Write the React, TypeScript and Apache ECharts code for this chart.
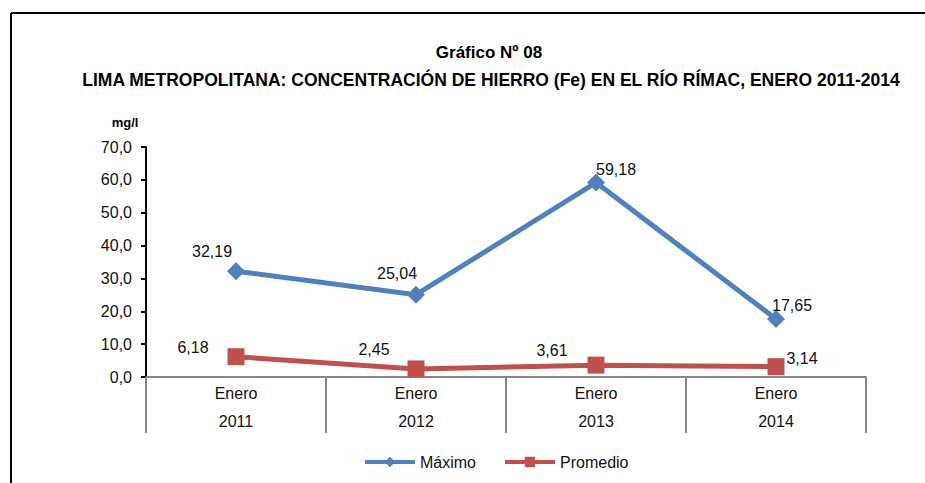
import React, { useEffect, useRef } from "react";
import * as echarts from "echarts";

const categories = ["Enero\n2011", "Enero\n2012", "Enero\n2013", "Enero\n2014"];
const maximo = [32.19, 25.04, 59.18, 17.65];
const promedio = [6.18, 2.45, 3.61, 3.14];
const maxLabelOffsets: number[][] = [[-24, -20], [-19, -21], [20, -13], [16, -14]];
const promLabelOffsets: number[][] = [[-43, -9], [-42, -19], [-44, -15], [26, -8]];

const FONT = "'Liberation Sans Narrow', 'Arial Narrow', 'Liberation Sans', Arial, sans-serif";

const fmt = (v: number, d: number) => v.toFixed(d).replace(".", ",");

export default function App() {
  const ref = useRef<HTMLDivElement>(null);
  useEffect(() => {
    document.body.style.margin = "0";
    const chart = echarts.init(ref.current!, null, { renderer: "svg" });
    const mkData = (vals: number[], offs: number[][]) =>
      vals.map((v, i) => ({
        value: v,
        label: { offset: offs[i] },
      }));
    chart.setOption({
      animation: false,
      backgroundColor: "#ffffff",
      textStyle: { fontFamily: FONT },
      grid: { left: 146, right: 59, top: 147, bottom: 106 },
      graphic: [
        { type: "line", shape: { x1: 11, y1: 13, x2: 925, y2: 13 }, style: { stroke: "#000", lineWidth: 2 } },
        { type: "line", shape: { x1: 11, y1: 13, x2: 11, y2: 483 }, style: { stroke: "#000", lineWidth: 2 } },
        { type: "text", x: 489, y: 52, style: { text: "Gráfico Nº 08", font: `bold 17px ${FONT}`, fill: "#000", textAlign: "center", textVerticalAlign: "middle" } },
        { type: "text", x: 491, y: 80, style: { text: "LIMA METROPOLITANA: CONCENTRACIÓN DE HIERRO (Fe) EN EL RÍO RÍMAC, ENERO 2011-2014", font: `bold 17.5px ${FONT}`, fill: "#000", textAlign: "center", textVerticalAlign: "middle" } },
        { type: "text", x: 125, y: 122, style: { text: "mg/l", font: `bold 13px ${FONT}`, fill: "#000", textAlign: "center", textVerticalAlign: "middle" } },
      ],
      legend: {
        left: 358,
        top: 449,
        itemWidth: 50,
        itemHeight: 13,
        itemGap: 27,
        itemTextGap: 2,
        lineStyle: { width: 4 },
        textStyle: { fontSize: 16, color: "#111", fontFamily: FONT },
        data: ["Máximo", "Promedio"],
      },
      xAxis: {
        type: "category",
        data: categories,
        boundaryGap: true,
        axisLine: { lineStyle: { color: "#868686", width: 2 } },
        axisTick: { show: true, interval: 0, length: 56, lineStyle: { color: "#868686", width: 2 } },
        axisLabel: { interval: 0, margin: 2, lineHeight: 28, fontSize: 16, color: "#111", fontFamily: FONT },
      },
      yAxis: {
        type: "value",
        min: 0,
        max: 70,
        interval: 10,
        axisLine: { show: true, lineStyle: { color: "#000", width: 2 } },
        axisTick: { show: true, length: 5, lineStyle: { color: "#000", width: 2 } },
        splitLine: { show: false },
        axisLabel: { margin: 14, fontSize: 16, color: "#111", fontFamily: FONT, formatter: (v: number) => fmt(v, 1) },
      },
      series: [
        {
          name: "Máximo",
          type: "line",
          data: mkData(maximo, maxLabelOffsets),
          color: "#4F81BD",
          lineStyle: { width: 5, color: "#4F81BD" },
          symbol: "diamond",
          symbolSize: 18,
          itemStyle: { color: "#4F81BD" },
          label: { show: true, position: "inside", fontSize: 16, color: "#111", fontFamily: FONT, formatter: (p: any) => fmt(p.value, 2) },
        },
        {
          name: "Promedio",
          type: "line",
          data: mkData(promedio, promLabelOffsets),
          color: "#C0504D",
          lineStyle: { width: 5, color: "#C0504D" },
          symbol: "rect",
          symbolSize: 17,
          itemStyle: { color: "#C0504D" },
          label: { show: true, position: "inside", fontSize: 16, color: "#111", fontFamily: FONT, formatter: (p: any) => fmt(p.value, 2) },
        },
      ],
    });
    return () => chart.dispose();
  }, []);
  return <div ref={ref} style={{ width: 925, height: 483 }} />;
}
